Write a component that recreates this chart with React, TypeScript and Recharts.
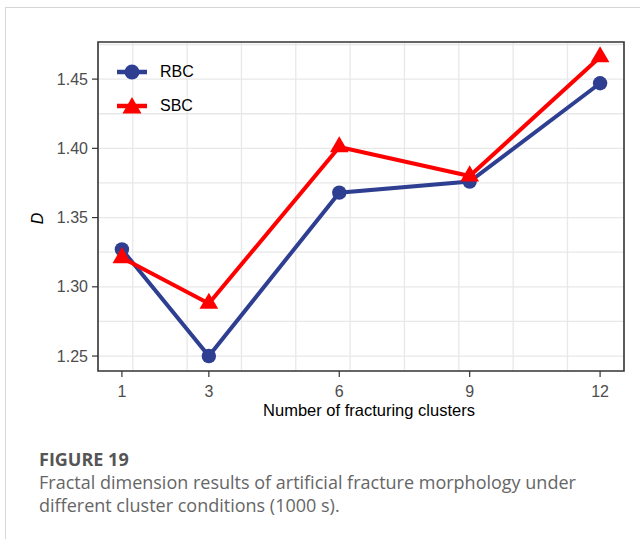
import React from 'react';
import {
  LineChart,
  Line,
  XAxis,
  YAxis,
  CartesianGrid,
  ReferenceArea,
  Label,
} from 'recharts';

// Number of fracturing clusters and fractal dimension D for each scheme
const clusters = [1, 3, 6, 9, 12];
const rbcValues = [1.327, 1.25, 1.368, 1.376, 1.447];
const sbcValues = [1.321, 1.288, 1.401, 1.38, 1.466];

const xTicks = [1, 3, 6, 9, 12];
const yTicks = [1.25, 1.3, 1.35, 1.4, 1.45];
const xGridValues = [1.25, 2.5, 3.75, 5, 6.25, 7.5, 8.75, 10, 11.25];
const yGridValues = [1.25, 1.275, 1.3, 1.325, 1.35, 1.375, 1.4, 1.425, 1.45, 1.475];

const xDomain: [number, number] = [0.45, 12.55];
const yDomain: [number, number] = [1.2392, 1.4768];

const seriesNames = ['RBC', 'SBC'];

const RBC_COLOR = '#2E3F92';
const SBC_COLOR = '#FF0000';
const AXIS_FONT = '"Liberation Sans", Arial, sans-serif';
const CAPTION_FONT = '"Open Sans", Lato, sans-serif';

const data = clusters.map((c, i) => ({ clusters: c, rbc: rbcValues[i], sbc: sbcValues[i] }));

const CircleDot = (props: any) => {
  const { cx, cy } = props;
  if (cx == null || cy == null) return null;
  return <circle cx={cx} cy={cy} r={7.2} fill={RBC_COLOR} />;
};

const triPath = (cx: number, cy: number, r: number) => {
  const hw = (r * Math.sqrt(3)) / 2;
  return `M${cx},${cy - r} L${cx + hw},${cy + r / 2} L${cx - hw},${cy + r / 2} Z`;
};

const TriangleDot = (props: any) => {
  const { cx, cy } = props;
  if (cx == null || cy == null) return null;
  return <path d={triPath(cx, cy, 10.8)} fill={SBC_COLOR} />;
};

// Key drawn inside the upper-left corner of the panel
const LegendBox = () => (
  <div style={{ position: 'absolute', left: 116, top: 55, display: 'flex', flexDirection: 'column' }}>
    {seriesNames.map((name, i) => (
      <div key={name} style={{ display: 'flex', alignItems: 'center', height: 34 }}>
        <svg width={44} height={24} style={{ display: 'block' }}>
          <line
            x1={1}
            x2={31}
            y1={12}
            y2={12}
            stroke={i === 0 ? RBC_COLOR : SBC_COLOR}
            strokeWidth={4.5}
          />
          {i === 0 ? (
            <circle cx={16} cy={12} r={7.5} fill={RBC_COLOR} />
          ) : (
            <path d={triPath(16, 14, 11)} fill={SBC_COLOR} />
          )}
        </svg>
        <span style={{ fontFamily: AXIS_FONT, fontSize: 16, color: '#000' }}>{name}</span>
      </div>
    ))}
  </div>
);

export default function App() {
  return (
    <div
      style={{
        position: 'absolute',
        left: 0,
        top: 0,
        width: 640,
        height: 539,
        background: '#fff',
        overflow: 'hidden',
      }}
    >
      <div
        style={{
          position: 'absolute',
          left: 5,
          top: 7,
          width: 640,
          height: 540,
          borderTop: '1px solid #d6d6d6',
          borderLeft: '1px solid #d6d6d6',
        }}
      />
      <div style={{ position: 'absolute', left: 0, top: 0 }}>
        <LineChart
          width={640}
          height={430}
          data={data}
          margin={{ top: 42, right: 16, bottom: 9, left: 28 }}
        >
          <CartesianGrid
            stroke="#E8E8E8"
            strokeWidth={1.3}
            horizontalValues={yGridValues}
            verticalValues={xGridValues}
          />
          <XAxis
            dataKey="clusters"
            type="number"
            domain={xDomain}
            ticks={xTicks}
            allowDataOverflow
            height={50}
            tickSize={6}
            tickMargin={9}
            axisLine={false}
            tickLine={{ stroke: '#333', strokeWidth: 1.2 }}
            tick={{ fill: '#4D4D4D', fontSize: 16, fontFamily: AXIS_FONT }}
          >
            <Label
              content={(p: any) => {
                const vb = p.viewBox;
                return (
                  <text
                    x={vb.x + vb.width / 2 + 8}
                    y={vb.y + vb.height - 5}
                    textAnchor="middle"
                    fontFamily={AXIS_FONT}
                    fontSize={16.5}
                    fill="#000"
                  >
                    Number of fracturing clusters
                  </text>
                );
              }}
            />
          </XAxis>
          <YAxis
            type="number"
            domain={yDomain}
            ticks={yTicks}
            allowDataOverflow
            width={70}
            tickSize={6}
            tickMargin={4}
            axisLine={false}
            tickLine={{ stroke: '#333', strokeWidth: 1.2 }}
            tick={{ fill: '#4D4D4D', fontSize: 16, fontFamily: AXIS_FONT }}
            tickFormatter={(v: number) => v.toFixed(2)}
          >
            <Label
              content={(p: any) => {
                const vb = p.viewBox;
                const x = vb.x + 9;
                const y = vb.y + vb.height / 2 + 12;
                return (
                  <text
                    x={x}
                    y={y}
                    transform={`rotate(-90 ${x} ${y})`}
                    textAnchor="middle"
                    dominantBaseline="central"
                    fontFamily={AXIS_FONT}
                    fontSize={16}
                    fontStyle="italic"
                    fill="#000"
                  >
                    D
                  </text>
                );
              }}
            />
          </YAxis>
          <ReferenceArea
            x1={xDomain[0]}
            x2={xDomain[1]}
            y1={yDomain[0]}
            y2={yDomain[1]}
            fill="none"
            stroke="#333"
            strokeWidth={1.6}
            ifOverflow="visible"
          />
          <Line
            dataKey="rbc"
            name="RBC"
            stroke={RBC_COLOR}
            strokeWidth={4}
            dot={<CircleDot />}
            activeDot={false}
            isAnimationActive={false}
          />
          <Line
            dataKey="sbc"
            name="SBC"
            stroke={SBC_COLOR}
            strokeWidth={4}
            dot={<TriangleDot />}
            activeDot={false}
            isAnimationActive={false}
          />
        </LineChart>
      </div>
      <LegendBox />
      <div
        style={{
          position: 'absolute',
          left: 39,
          top: 447,
          fontFamily: CAPTION_FONT,
          fontWeight: 700,
          fontSize: 18,
          color: '#555',
          lineHeight: '24px',
        }}
      >
        FIGURE 19
      </div>
      <div
        style={{
          position: 'absolute',
          left: 39,
          top: 471,
          width: 600,
          fontFamily: CAPTION_FONT,
          fontWeight: 400,
          fontSize: 18,
          color: '#666',
          lineHeight: '23px',
          whiteSpace: 'nowrap',
        }}
      >
        Fractal dimension results of artificial fracture morphology under
        <br />
        different cluster conditions (1000 s).
      </div>
    </div>
  );
}
